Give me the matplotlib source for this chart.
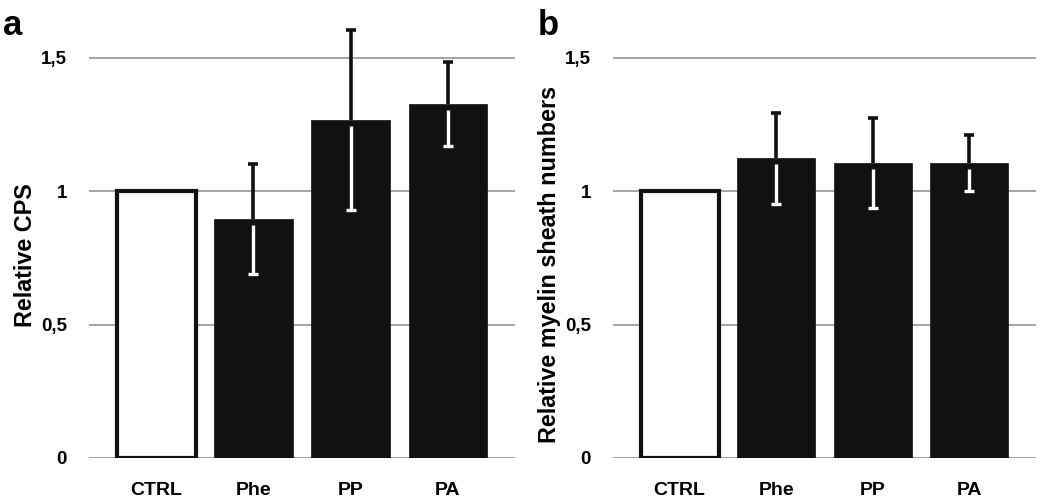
import matplotlib
matplotlib.use("Agg")
import matplotlib.pyplot as plt
import numpy as np

categories = ["CTRL", "Phe", "PP", "PA"]
cps_values = [1.0, 0.895, 1.265, 1.325]
cps_errors = [0.0, 0.205, 0.338, 0.158]
myelin_values = [1.0, 1.122, 1.105, 1.105]
myelin_errors = [0.0, 0.172, 0.170, 0.105]
ytick_values = [0, 0.5, 1, 1.5]
ytick_labels = ["0", "0,5", "1", "1,5"]

plt.rcParams['font.family'] = ['Liberation Sans', 'DejaVu Sans']
plt.rcParams['font.weight'] = 'bold'

W, H = 1050, 499
fig = plt.figure(figsize=(W / 100, H / 100), dpi=100)

BAR = "#111111"
GRID = "#8c8c8c"


def panel(left_px, right_px, values, errors, ylabel, label_y):
    bottom_px = 458
    ymax = 1.7
    unit = 267
    ax = fig.add_axes([left_px / W, (H - bottom_px) / H,
                       (right_px - left_px) / W, ymax * unit / H])
    x = np.arange(len(categories))
    vals = np.array(values)
    errs = np.array(errors)
    for t in ytick_values:
        ax.axhline(t, color=GRID, lw=1.1, zorder=0.5)
    colors = ["white"] + [BAR] * (len(categories) - 1)
    ax.bar(x, vals, width=0.81, color=colors, edgecolor=BAR,
           linewidth=[3.0] + [0.5] * (len(categories) - 1), zorder=2)
    m = errs > 0
    xm, vm, em = x[m], vals[m], errs[m]
    gap = 0.022
    ax.vlines(xm, vm, vm + em, color=BAR, lw=2.6, zorder=3)
    ax.plot(xm, vm + em, ls='none', marker='_', ms=7.5, mew=2.6,
            color=BAR, zorder=3)
    ax.vlines(xm, vm - em, vm - gap, color="white", lw=2.4, zorder=3)
    ax.plot(xm, vm - em, ls='none', marker='_', ms=7.5, mew=2.4,
            color="white", zorder=3)
    ax.set_xlim(-0.69, len(categories) - 1 + 0.69)
    ax.set_ylim(0, ymax)
    ax.set_yticks(ytick_values)
    ax.set_yticklabels(ytick_labels)
    ax.set_xticks(x)
    ax.set_xticklabels(categories)
    ax.tick_params(axis='y', length=0, pad=16, labelsize=13.5)
    ax.tick_params(axis='x', length=0, pad=17, labelsize=14)
    for s in ax.spines.values():
        s.set_visible(False)
    ax.set_ylabel(ylabel, fontsize=16.8, fontweight='bold')
    ax.yaxis.set_label_coords(-0.122, label_y)
    ax.patch.set_alpha(0)
    return ax


panel(89, 515, cps_values, cps_errors, "Relative CPS", 0.447)
panel(613, 1036, myelin_values, myelin_errors,
      "Relative myelin sheath numbers", 0.427)

fig.text(3 / W, (H - 35) / H, "a", fontsize=25, fontweight='bold',
         va='baseline', ha='left')
fig.text(538 / W, (H - 35) / H, "b", fontsize=25, fontweight='bold',
         va='baseline', ha='left')

fig.savefig("out.png", dpi=100)
